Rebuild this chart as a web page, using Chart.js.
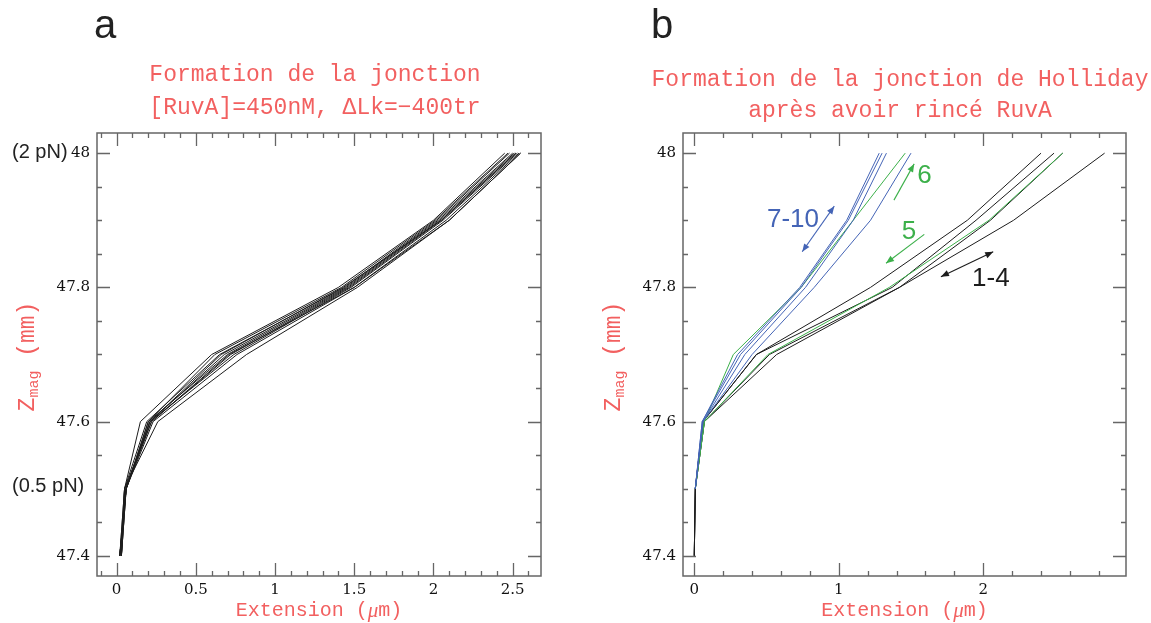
<!DOCTYPE html>
<html><head><meta charset="utf-8">
<script src="https://cdn.jsdelivr.net/npm/chart.js@4/dist/chart.umd.min.js"></script>
<style>
html,body{margin:0;padding:0;background:#fff;width:1151px;height:623px;overflow:hidden}
.c{position:absolute;top:0}
canvas{display:block}
</style></head><body>
<div class="c" style="left:0;width:575px;height:623px"><canvas id="ca" width="575" height="623" style="width:575px;height:623px"></canvas></div>
<div class="c" style="left:575px;width:576px;height:623px"><canvas id="cb" width="576" height="623" style="width:576px;height:623px"></canvas></div>
<script>
// ---- data ----
const zLevels = [47.4, 47.5, 47.6, 47.7, 47.8, 47.9, 48.0];
const yTicks = [47.4, 47.6, 47.8, 48];
const xTicksA = [0, 0.5, 1, 1.5, 2, 2.5];
const xTicksB = [0, 1, 2];

// panel a: extension (µm) at each Zmag level
const runA1 = [0.02, 0.05, 0.15, 0.60, 1.40, 2.00, 2.45];
const runA2 = [0.02, 0.06, 0.20, 0.62, 1.42, 2.01, 2.47];
const runA3 = [0.03, 0.05, 0.19, 0.65, 1.44, 2.02, 2.48];
const runA4 = [0.02, 0.06, 0.21, 0.68, 1.45, 2.03, 2.50];
const runA5 = [0.03, 0.06, 0.20, 0.70, 1.46, 2.04, 2.51];
const runA6 = [0.02, 0.05, 0.22, 0.72, 1.47, 2.05, 2.52];
const runA7 = [0.03, 0.06, 0.21, 0.74, 1.48, 2.06, 2.53];
const runA8 = [0.02, 0.06, 0.23, 0.76, 1.50, 2.08, 2.54];
const runA9 = [0.03, 0.05, 0.26, 0.82, 1.52, 2.10, 2.55];
const runA10 = [0.03, 0.06, 0.22, 0.71, 1.50, 2.10, 2.55];
const runA11 = [0.02, 0.06, 0.21, 0.66, 1.43, 2.05, 2.52];

// panel b
const runB1 = [0.00, 0.007, 0.060, 0.43, 1.22, 1.89, 2.40];
const runB2 = [0.00, 0.007, 0.060, 0.43, 1.37, 1.95, 2.49];
const runB3 = [0.00, 0.007, 0.070, 0.52, 1.42, 2.05, 2.55];
const runB4 = [0.00, 0.007, 0.070, 0.57, 1.42, 2.21, 2.84];
const runB5 = [null, 0.007, 0.070, 0.51, 1.35, 2.04, 2.55];
const runB6 = [null, 0.007, 0.070, 0.27, 0.74, 1.10, 1.46];
const runB7 = [null, 0.007, 0.055, 0.30, 0.73, 1.055, 1.28];
const runB8 = [null, 0.007, 0.055, 0.32, 0.74, 1.066, 1.30];
const runB9 = [null, 0.007, 0.060, 0.35, 0.77, 1.10, 1.33];
const runB10 = [null, 0.007, 0.060, 0.40, 0.83, 1.22, 1.50];

const BLACK = '#1c1c1c', BLUE = '#4464b6', GREEN = '#3cb04a', RED = '#f26060', FRAME = '#666';

function pts(arr) {
  const out = [];
  arr.forEach((x, i) => { if (x !== null) out.push({x: x, y: zLevels[i]}); });
  return out;
}
function ds(arr, color, order) {
  return {data: pts(arr), borderColor: color, borderWidth: 1, pointRadius: 0, tension: 0, fill: false, order: order};
}

const annotB = [
  {from: [0.747, 47.853], to: [0.969, 47.921], both: true, color: BLUE},
  {from: [1.382, 47.930], to: [1.522, 47.984], both: false, color: GREEN},
  {from: [1.592, 47.879], to: [1.327, 47.836], both: false, color: GREEN},
  {from: [1.707, 47.816], to: [2.069, 47.853], both: true, color: BLACK}
];
const labelsB = [
  {text: '7-10', at: [0.683, 47.901], color: BLUE},
  {text: '6', at: [1.593, 47.966], color: GREEN},
  {text: '5', at: [1.486, 47.883], color: GREEN},
  {text: '1-4', at: [2.053, 47.813], color: BLACK}
];

function arrowHead(ctx, x1, y1, x2, y2, color) {
  const a = Math.atan2(y2 - y1, x2 - x1), L = 8, W = 3.2;
  ctx.beginPath();
  ctx.moveTo(x2, y2);
  ctx.lineTo(x2 - L * Math.cos(a) + W * Math.sin(a), y2 - L * Math.sin(a) - W * Math.cos(a));
  ctx.lineTo(x2 - L * Math.cos(a) - W * Math.sin(a), y2 - L * Math.sin(a) + W * Math.cos(a));
  ctx.closePath();
  ctx.fillStyle = color; ctx.fill();
}

function framePlugin(cfg) {
  return {
    id: 'frame' + cfg.name,
    afterDatasetsDraw(chart) {
      const ctx = chart.ctx, a = chart.chartArea, xs = chart.scales.x, ys = chart.scales.y;
      ctx.save();
      ctx.strokeStyle = FRAME; ctx.lineWidth = 1.3;
      ctx.beginPath();
      for (let i = cfg.xi0; i <= cfg.xi1; i++) {
        const v = i / cfg.xdiv; const px = Math.round(xs.getPixelForValue(v)) + 0.5;
        if (px < a.left || px > a.right) continue;
        const L = (i % cfg.xmaj === 0) ? 13 : 5;
        ctx.moveTo(px, a.bottom); ctx.lineTo(px, a.bottom - L);
        ctx.moveTo(px, a.top); ctx.lineTo(px, a.top + L);
      }
      for (let i = 948; i <= 960; i++) {
        const v = i / 20; const py = Math.round(ys.getPixelForValue(v)) + 0.5;
        const L = (i % 4 === 0) ? 13 : 5;
        ctx.moveTo(a.left, py); ctx.lineTo(a.left + L, py);
        ctx.moveTo(a.right, py); ctx.lineTo(a.right - L, py);
      }
      ctx.stroke();
      ctx.lineWidth = 1.5;
      ctx.strokeRect(a.left, a.top, a.right - a.left, a.bottom - a.top);
      if (cfg.annots) {
        cfg.annots.forEach(an => {
          const x1 = xs.getPixelForValue(an.from[0]), y1 = ys.getPixelForValue(an.from[1]);
          const x2 = xs.getPixelForValue(an.to[0]), y2 = ys.getPixelForValue(an.to[1]);
          ctx.strokeStyle = an.color; ctx.lineWidth = 1.1;
          ctx.beginPath(); ctx.moveTo(x1, y1); ctx.lineTo(x2, y2); ctx.stroke();
          arrowHead(ctx, x1, y1, x2, y2, an.color);
          if (an.both) arrowHead(ctx, x2, y2, x1, y1, an.color);
        });
        cfg.labels.forEach(l => {
          ctx.fillStyle = l.color; ctx.font = '26px "Liberation Sans", Arial, sans-serif';
          ctx.textAlign = 'center'; ctx.textBaseline = 'middle';
          ctx.fillText(l.text, xs.getPixelForValue(l.at[0]), ys.getPixelForValue(l.at[1]));
        });
      }
      ctx.restore();
    },
    afterDraw(chart) {
      const ctx = chart.ctx, a = chart.chartArea;
      ctx.save();
      ctx.fillStyle = '#222'; ctx.font = '40px "Liberation Sans", Arial, sans-serif';
      ctx.textAlign = 'left'; ctx.textBaseline = 'alphabetic';
      ctx.fillText(cfg.letter, cfg.letterX, 38);
      ctx.fillStyle = RED; ctx.font = '23px "Liberation Mono", "Courier New", monospace';
      ctx.textAlign = 'center'; ctx.textBaseline = 'middle';
      ctx.fillText(cfg.title[0], cfg.titleX, cfg.titleY[0]);
      ctx.fillText(cfg.title[1], cfg.titleX, cfg.titleY[1]);
      const xc = (a.left + a.right) / 2, yT = 611;
      const f1 = '20px "Liberation Mono", monospace', f2 = 'italic 21px "Liberation Serif", serif';
      ctx.font = f1; const w1 = ctx.measureText('Extension (').width, w3 = ctx.measureText('m)').width;
      ctx.font = f2; const w2 = ctx.measureText('\u03bc').width;
      let x0 = xc - (w1 + w2 + w3) / 2;
      ctx.textAlign = 'left';
      ctx.font = f1; ctx.fillText('Extension (', x0, yT);
      ctx.font = f2; ctx.fillText('\u03bc', x0 + w1, yT);
      ctx.font = f1; ctx.fillText('m)', x0 + w1 + w2, yT);
      ctx.save();
      ctx.translate(a.left - 69, (a.top + a.bottom) / 2 + 2);
      ctx.rotate(-Math.PI / 2);
      const g1 = '23px "Liberation Mono", monospace', g2 = '15px "Liberation Mono", monospace';
      ctx.font = g1; const zW = ctx.measureText('Z').width, mmW = ctx.measureText(' (mm)').width;
      ctx.font = g2; const magW = ctx.measureText('mag').width;
      let s = -(zW + magW + mmW) / 2;
      ctx.textAlign = 'left'; ctx.textBaseline = 'middle';
      ctx.font = g1; ctx.fillText('Z', s, 0);
      ctx.font = g2; ctx.fillText('mag', s + zW, 6);
      ctx.font = g1; ctx.fillText(' (mm)', s + zW + magW, 0);
      ctx.restore();
      if (cfg.force) {
        ctx.fillStyle = '#222'; ctx.font = '20px "Liberation Sans", Arial, sans-serif';
        ctx.textAlign = 'left'; ctx.textBaseline = 'middle';
        ctx.fillText('(2 pN)', 12, 152);
        ctx.fillText('(0.5 pN)', 12, 486);
      }
      ctx.restore();
    }
  };
}

function makeChart(id, datasets, xmin, xmax, xTicks, pad, plugin) {
  return new Chart(document.getElementById(id), {
    type: 'line',
    data: {datasets: datasets},
    options: {
      responsive: false, animation: false, devicePixelRatio: 1,
      layout: {padding: pad},
      plugins: {legend: {display: false}, tooltip: {enabled: false}, title: {display: false}},
      scales: {
        x: {type: 'linear', min: xmin, max: xmax,
            grid: {display: false, drawTicks: false, tickLength: 0}, border: {display: false},
            afterBuildTicks: s => { s.ticks = xTicks.map(v => ({value: v})); },
            afterFit: s => { s.height = 47; },
            ticks: {autoSkip: false, maxRotation: 0, padding: 5, color: '#111',
                    font: {family: '"DejaVu Serif", serif', size: 15}, callback: v => String(v)}},
        y: {type: 'linear', min: 47.37, max: 48.03,
            grid: {display: false, drawTicks: false, tickLength: 0}, border: {display: false},
            afterBuildTicks: s => { s.ticks = yTicks.map(v => ({value: v})); },
            afterFit: s => { s.width = 60; },
            ticks: {autoSkip: false, padding: 7, color: '#111',
                    font: {family: '"DejaVu Serif", serif', size: 15}, callback: v => String(v)}}
      }
    },
    plugins: [plugin]
  });
}

const dsA = [runA1, runA2, runA3, runA4, runA5, runA6, runA7, runA8, runA9, runA10, runA11].map(r => ds(r, BLACK, 1));
makeChart('ca', dsA, -0.124, 2.679, xTicksA, {left: 37, right: 34, top: 133, bottom: 0},
  framePlugin({name: 'a', xi0: -2, xi1: 27, xdiv: 10, xmaj: 5, letter: 'a', letterX: 94,
    title: ['Formation de la jonction', '[RuvA]=450nM, \u0394Lk=\u2212400tr'], titleX: 315, titleY: [75, 108], force: true}));

const dsB = [
  ds(runB1, BLACK, 3), ds(runB2, BLACK, 3), ds(runB3, BLACK, 3), ds(runB4, BLACK, 3),
  ds(runB5, GREEN, 2), ds(runB6, GREEN, 2),
  ds(runB7, BLUE, 1), ds(runB8, BLUE, 1), ds(runB9, BLUE, 1), ds(runB10, BLUE, 1)
];
makeChart('cb', dsB, -0.078, 2.988, xTicksB, {left: 48, right: 25, top: 133, bottom: 0},
  framePlugin({name: 'b', xi0: -1, xi1: 15, xdiv: 5, xmaj: 5, letter: 'b', letterX: 76,
    title: ['Formation de la jonction de Holliday', 'apr\u00e8s avoir rinc\u00e9 RuvA'], titleX: 325, titleY: [80, 111],
    annots: annotB, labels: labelsB}));
</script>
</body></html>
